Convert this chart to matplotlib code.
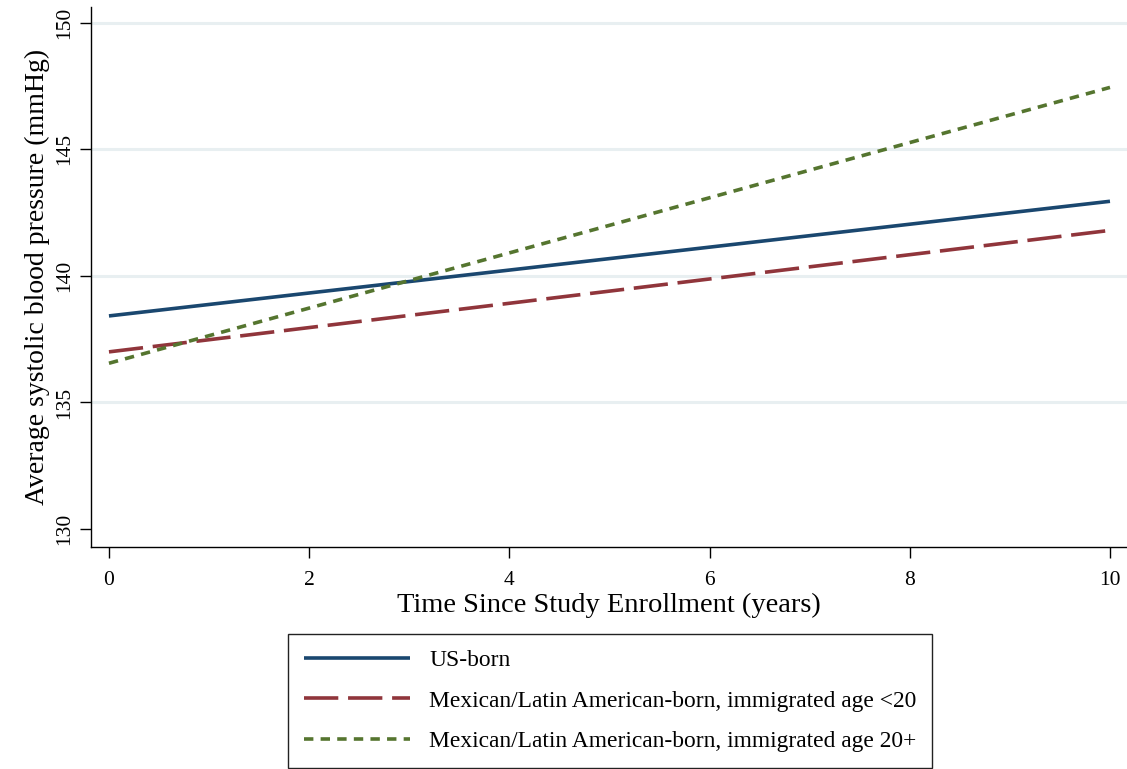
import numpy as np
import matplotlib.pyplot as plt

plt.rcParams['font.family'] = ['Liberation Serif', 'DejaVu Serif']

# predicted systolic BP at start and end of follow-up
years = [0, 10]
us_born = [138.42, 142.95]
immig_young = [137.0, 141.8]
immig_old = [136.55, 147.45]

labels = ["US-born",
          "Mexican/Latin American-born, immigrated age <20",
          "Mexican/Latin American-born, immigrated age 20+"]

fig = plt.figure(figsize=(11.27, 7.69), dpi=100)
ax = fig.add_axes([0.0807, 0.2887, 0.9193, 0.7023])

ax.plot(years, us_born, color='#1a476f', lw=2.6, label=labels[0],
        solid_capstyle='butt')
ax.plot(years, immig_young, color='#90353b', lw=2.6, label=labels[1],
        linestyle=(0, (9.5, 2.7)), dash_capstyle='butt')
ax.plot(years, immig_old, color='#55752f', lw=2.6, label=labels[2],
        linestyle=(0, (2.6, 2.0)), dash_capstyle='butt')

ax.set_xlim(-0.18, 10.17)
ax.set_ylim(129.29, 150.63)
ax.set_xticks([0, 2, 4, 6, 8, 10])
ax.set_yticks([130, 135, 140, 145, 150])
for t in ax.get_yticklabels():
    t.set_rotation(90)
    t.set_va('center')
ax.tick_params(direction='out', length=8, width=1.0, labelsize=15.5)
ax.tick_params(axis='x', pad=9)
ax.tick_params(axis='y', pad=4)

for y in [135, 140, 145, 150]:
    ax.axhline(y, color='#e8eff1', lw=2.2, zorder=0)

ax.spines['top'].set_visible(False)
ax.spines['right'].set_visible(False)
ax.spines['left'].set_linewidth(1.0)
ax.spines['bottom'].set_linewidth(1.0)

ax.set_xlabel('Time Since Study Enrollment (years)', fontsize=20.5, labelpad=2)
ax.set_ylabel('Average systolic blood pressure (mmHg)', fontsize=20, labelpad=4)

handles, _ = ax.get_legend_handles_labels()
leg = fig.legend(handles, labels, loc='upper center', bbox_to_anchor=(0.5413, 0.1756),
                 fontsize=16.9, handlelength=4.55, handletextpad=0.8, labelspacing=0.80,
                 borderpad=0.68, borderaxespad=0, fancybox=False, framealpha=1)
leg.get_frame().set_edgecolor('#222222')
leg.get_frame().set_linewidth(1.0)

fig.savefig('out.png', dpi=100)
